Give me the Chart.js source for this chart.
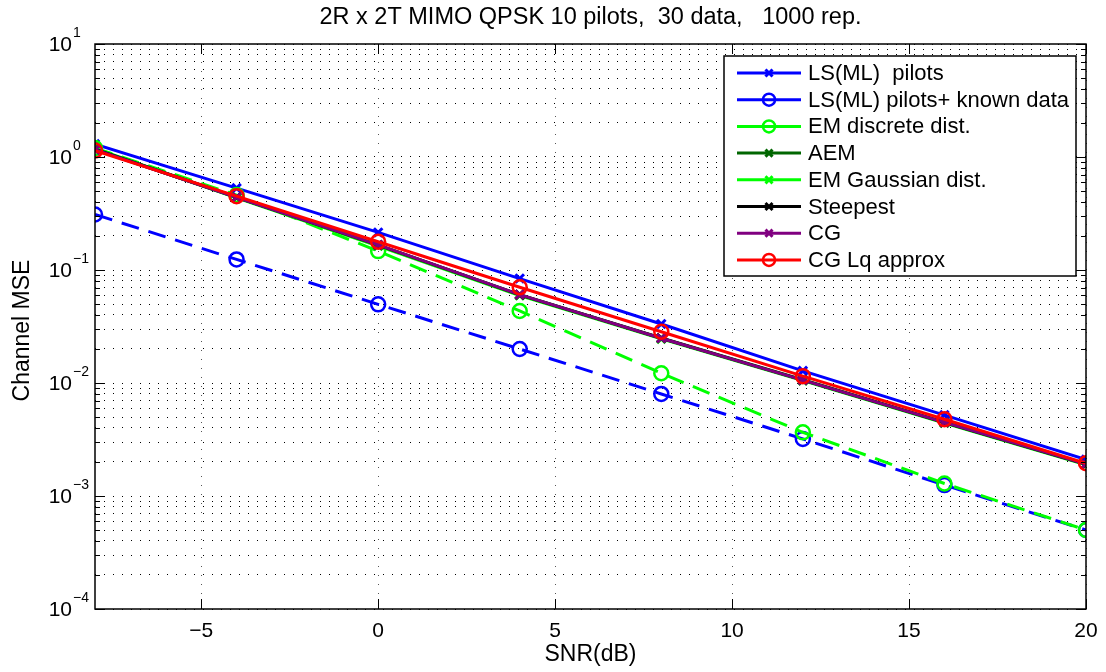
<!DOCTYPE html>
<html>
<head>
<meta charset="utf-8">
<script src="https://cdn.jsdelivr.net/npm/chart.js@4.4.0/dist/chart.umd.min.js"></script>
<style>
  html, body { margin: 0; padding: 0; background: #fff; }
  #wrap { width: 1106px; height: 672px; }
</style>
</head>
<body>
<div id="wrap"><canvas id="c" width="1106" height="672"></canvas></div>
<script>
// SNR points (dB)
const snr = [-8, -4, 0, 4, 8, 12, 16, 20];

// channel MSE per method
const lsPilots   = [1.30, 0.53, 0.215, 0.084, 0.0333, 0.0128, 0.0052, 0.0021];
const lsKnown    = [0.31, 0.124, 0.0497, 0.0200, 0.0080, 0.00320, 0.00125, 0.00050];
const emDiscrete = [1.20, 0.46, 0.147, 0.0434, 0.0122, 0.00366, 0.00129, 0.00050];
const aem        = [1.17, 0.44, 0.166, 0.0605, 0.0250, 0.0107, 0.00450, 0.00192];
const emGauss    = [1.19, 0.435, 0.163, 0.0595, 0.0246, 0.0105, 0.00443, 0.00189];
const steepest   = [1.17, 0.44, 0.166, 0.0603, 0.0249, 0.0106, 0.00447, 0.00191];
const cg         = [1.16, 0.44, 0.167, 0.0605, 0.0249, 0.0106, 0.00448, 0.00192];
const cgLq       = [1.14, 0.45, 0.178, 0.0703, 0.0284, 0.0115, 0.00478, 0.00195];

const seriesLabels = ['LS(ML)  pilots', 'LS(ML) pilots+ known data', 'EM discrete dist.', 'AEM',
                      'EM Gaussian dist.', 'Steepest', 'CG', 'CG Lq approx'];

const xTicks = [-5, 0, 5, 10, 15, 20];
const yDecades = [-4, -3, -2, -1, 0, 1];

const titleText = '2R x 2T MIMO QPSK 10 pilots,  30 data,   1000 rep.';
const xLabel = 'SNR(dB)';
const yLabel = 'Channel MSE';

const FONT = '"Liberation Sans", Arial, Helvetica, sans-serif';

function mk(i, vals, color, marker, dashed) {
  const circle = marker === 'o';
  return {
    label: seriesLabels[i],
    data: snr.map((x, j) => ({ x: x, y: vals[j] })),
    borderColor: color,
    backgroundColor: color,
    borderWidth: 3,
    borderDash: dashed ? [18, 10] : [],
    pointStyle: circle ? 'circle' : 'crossRot',
    pointRadius: circle ? 7 : 6,
    pointBorderWidth: circle ? 2.5 : 3,
    pointBackgroundColor: 'rgba(0,0,0,0)',
    pointBorderColor: color,
    tension: 0,
    order: 7 - i
  };
}

const datasets = [
  mk(0, lsPilots, '#0000ff', 'x', false),
  mk(1, lsKnown, '#0000ff', 'o', true),
  mk(2, emDiscrete, '#00ff00', 'o', true),
  mk(3, aem, '#006600', 'x', false),
  mk(4, emGauss, '#00ff00', 'x', false),
  mk(5, steepest, '#000000', 'x', false),
  mk(6, cg, '#800080', 'x', false),
  mk(7, cgLq, '#ff0000', 'o', false)
];

const decor = {
  id: 'decor',
  beforeDraw(chart) {
    const ctx = chart.ctx;
    ctx.save();
    ctx.fillStyle = '#fff';
    ctx.fillRect(0, 0, chart.width, chart.height);
    ctx.restore();
  },
  afterDraw(chart) {
    const ctx = chart.ctx;
    const a = chart.chartArea;
    const xs = chart.scales.x, ys = chart.scales.y;
    ctx.save();

    // ticks pointing inward
    ctx.strokeStyle = '#000';
    ctx.lineWidth = 1;
    ctx.setLineDash([]);
    ctx.beginPath();
    ys.ticks.forEach(t => {
      const y = Math.round(ys.getPixelForValue(t.value)) + 0.5;
      const len = t.major ? 10 : 5;
      ctx.moveTo(a.left, y); ctx.lineTo(a.left + len, y);
      ctx.moveTo(a.right, y); ctx.lineTo(a.right - len, y);
    });
    xTicks.forEach(v => {
      const x = Math.round(xs.getPixelForValue(v)) + 0.5;
      ctx.moveTo(x, a.bottom); ctx.lineTo(x, a.bottom - 10);
      ctx.moveTo(x, a.top); ctx.lineTo(x, a.top + 10);
    });
    ctx.stroke();

    // axes box
    ctx.lineWidth = 1.5;
    ctx.strokeRect(a.left, a.top, a.right - a.left, a.bottom - a.top);

    // x tick labels
    ctx.fillStyle = '#000';
    ctx.font = '21px ' + FONT;
    ctx.textAlign = 'center';
    ctx.textBaseline = 'middle';
    xTicks.forEach(v => {
      const s = v < 0 ? '\u2212' + Math.abs(v) : String(v);
      ctx.fillText(s, xs.getPixelForValue(v), a.bottom + 22);
    });

    // y tick labels 10^k
    yDecades.forEach(k => {
      const y = ys.getPixelForValue(Math.pow(10, k));
      ctx.font = '21px ' + FONT;
      ctx.textAlign = 'right';
      ctx.textBaseline = 'middle';
      ctx.fillText('10', 72, y + 1);
      ctx.font = '14px ' + FONT;
      ctx.textAlign = 'left';
      ctx.fillText(k < 0 ? '\u2212' + Math.abs(k) : String(k), 73, y - 11);
    });

    // titles
    ctx.font = '23.5px ' + FONT;
    ctx.textAlign = 'center';
    ctx.textBaseline = 'middle';
    ctx.fillText(titleText, (a.left + a.right) / 2, 18);
    ctx.font = '23px ' + FONT;
    ctx.fillText(xLabel, (a.left + a.right) / 2, 655);
    ctx.save();
    ctx.translate(23, (a.top + a.bottom) / 2 + 4);
    ctx.rotate(-Math.PI / 2);
    ctx.fillText(yLabel, 0, 0);
    ctx.restore();

    // legend inside plot
    const bx = 724, by = 56, bw = 352, bh = 220, row = 26.7;
    ctx.fillStyle = '#fff';
    ctx.fillRect(bx, by, bw, bh);
    ctx.lineWidth = 1.5;
    ctx.strokeStyle = '#000';
    ctx.strokeRect(bx, by, bw, bh);
    chart.data.datasets.forEach((ds, i) => {
      const y = by + 17 + i * row;
      ctx.strokeStyle = ds.borderColor;
      ctx.lineWidth = 3;
      ctx.setLineDash([]);
      ctx.beginPath();
      ctx.moveTo(737, y); ctx.lineTo(801, y);
      ctx.stroke();
      ctx.fillStyle = 'rgba(0,0,0,0)';
      ctx.lineWidth = ds.pointBorderWidth;
      Chart.helpers.drawPoint(ctx, { pointStyle: ds.pointStyle, radius: ds.pointRadius - 1, rotation: 0, borderWidth: ds.pointBorderWidth }, 769, y);
      ctx.fillStyle = '#000';
      ctx.font = '22px ' + FONT;
      ctx.textAlign = 'left';
      ctx.textBaseline = 'middle';
      ctx.fillText(ds.label, 808, y + 1);
    });
    ctx.restore();
  }
};

new Chart(document.getElementById('c'), {
  type: 'line',
  data: { datasets },
  options: {
    responsive: false,
    animation: false,
    devicePixelRatio: 1,
    layout: { padding: { left: 95, top: 44, right: 20, bottom: 63 } },
    plugins: { legend: { display: false }, title: { display: false }, tooltip: { enabled: false } },
    scales: {
      x: {
        type: 'linear', min: -8, max: 20,
        afterBuildTicks: s => { s.ticks = xTicks.map(v => ({ value: v })); },
        ticks: { display: false },
        grid: { color: '#555', lineWidth: 1, drawTicks: false },
        border: { display: false, dash: [1, 8] }
      },
      y: {
        type: 'logarithmic', min: 1e-4, max: 10,
        afterBuildTicks: s => {
          const t = [];
          for (let k = -4; k < 1; k++) {
            for (let m = 1; m <= 9; m++) t.push({ value: m * Math.pow(10, k), major: m === 1 });
          }
          t.push({ value: 10, major: true });
          s.ticks = t;
        },
        ticks: { display: false },
        grid: { color: '#000', lineWidth: 1, drawTicks: false },
        border: { display: false, dash: [1, 8] }
      }
    }
  },
  plugins: [decor]
});
</script>
</body>
</html>
